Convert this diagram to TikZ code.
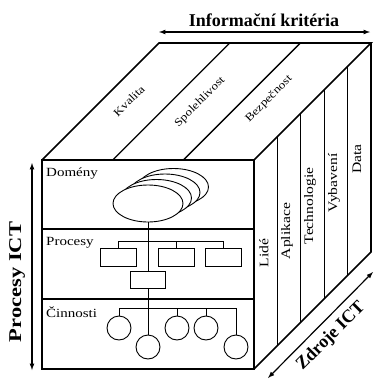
\documentclass[tikz,border=0pt]{standalone}
\usepackage{fontspec}
\setmainfont{Liberation Serif}
\newfontfamily\widefont[FakeStretch=1.2]{Liberation Serif}
\usetikzlibrary{shapes,arrows}

\begin{document}
\begin{tikzpicture}[x=1pt,y=-1pt,
    cube/.style={line width=1.6pt},
    strip/.style={line width=1.3pt},
    treeline/.style={line width=0.9pt},
    dimarrow/.style={latex-latex, line width=1.2pt},
    dimlabel/.style={font=\bfseries\fontsize{18}{20}\selectfont, inner sep=0pt},
    facetext/.style={font=\widefont\fontsize{12.5}{14}\selectfont, inner sep=0pt},
    toptext/.style={font=\widefont\fontsize{11}{12}\selectfont, rotate=45, inner sep=0pt},
    sidetext/.style={font=\widefont\fontsize{13}{14}\selectfont, rotate=90, inner sep=0pt},
    domell/.style={draw, ellipse, fill=white, minimum width=70pt, minimum height=37pt, inner sep=0pt, line width=0.9pt},
    procbox/.style={draw, rectangle, minimum width=36pt, minimum height=18pt, inner sep=0pt, line width=0.9pt},
    actcirc/.style={draw, circle, minimum size=24pt, inner sep=0pt, line width=0.9pt}
  ]
  \useasboundingbox (0,0) rectangle (375,381);

  % cube corners
  \coordinate (ftl) at (42,160);
  \coordinate (ftr) at (254,160);
  \coordinate (fbl) at (42,369);
  \coordinate (fbr) at (254,369);
  \coordinate (btl) at (159,43);
  \coordinate (btr) at (371,43);
  \coordinate (bbr) at (371,252);

  % cube
  \draw[cube] (ftl) rectangle (fbr);
  \draw[cube] (42,229) -- (254,229);
  \draw[cube] (42,299) -- (254,299);
  \draw[cube] (ftl) -- (btl) -- (btr) -- (ftr);
  \draw[cube] (btr) -- (bbr) -- (fbr);
  \foreach \i in {1,2}
    \draw[strip] (42+70.67*\i,160) -- (159+70.67*\i,43);
  \foreach \i in {1,...,4}
    \draw[strip] (254+23.4*\i,160-23.4*\i) -- (254+23.4*\i,369-23.4*\i);

  % top face labels
  \node[toptext] (kval) at (129,101) {Kvalita};
  \node[toptext] (spol) at (200,102) {Spolehlivost};
  \node[toptext] (bezp) at (269,99) {Bezpečnost};

  % right face labels
  \node[sidetext] (lide) at (264,253) {Lidé};
  \node[sidetext] (apl) at (287,231) {Aplikace};
  \node[sidetext] (tech) at (310,206) {Technologie};
  \node[sidetext] (vyb) at (334,183) {Vybavení};
  \node[sidetext] (data) at (357,159) {Data};

  % front face labels
  \node[facetext, anchor=base west] (domlbl) at (46,176) {Domény};
  \node[facetext, anchor=base west] (proclbl) at (46,245) {Procesy};
  \node[facetext, anchor=base west] (actlbl) at (46,317) {Činnosti};

  % domains
  \node[domell] (dom3) at (173.5,187) {};
  \node[domell] (dom2) at (165,192.5) {};
  \node[domell] (dom1) at (156.5,198) {};
  \node[domell] (dom) at (148,203.5) {};

  % processes
  \node[procbox] (p1) at (118,257) {};
  \node[procbox] (p2) at (176.5,257) {};
  \node[procbox] (p3) at (223.5,257) {};
  \node[procbox, minimum height=17pt, minimum width=35pt] (pbox) at (148,279.5) {};

  % activities
  \node[actcirc] (a1) at (119,328) {};
  \node[actcirc] (a2) at (148,347) {};
  \node[actcirc] (a3) at (177,328) {};
  \node[actcirc] (a4) at (206,328) {};
  \node[actcirc] (a5) at (236,347) {};

  % tree lines
  \draw[treeline] (dom.south) -- (pbox.north);
  \draw[treeline] (pbox.south) -- (a2.north);
  \draw[treeline] (p1.north) -- ++(0,-6) coordinate (pbar) -- (pbar -| p3.north) -- (p3.north);
  \draw[treeline] (p2.north) -- (p2.north |- pbar);
  \draw[treeline] (a1.north) -- ++(0,-7) coordinate (abar) -- (abar -| a5.north) -- (a5.north);
  \draw[treeline] (a3.north) -- (a3.north |- abar);
  \draw[treeline] (a4.north) -- (a4.north |- abar);

  % dimension arrows
  \coordinate (ik1) at (159,32);
  \coordinate (ik2) at (370,32);
  \coordinate (pi1) at (32,163);
  \coordinate (pi2) at (32,370);
  \coordinate (zi1) at (268,378);
  \coordinate (zi2) at (373,272);
  \draw[dimarrow] (ik1) -- (ik2);
  \draw[dimarrow] (pi1) -- (pi2);
  \draw[dimarrow] (zi1) -- (zi2);

  % dimension labels
  \node[dimlabel] (iklbl) at (264,20) {Informační kritéria};
  \node[dimlabel, rotate=90, xscale=1.25] (pilbl) at (17,282) {Procesy ICT};
  \node[dimlabel, rotate=45] (zilbl) at (331,336) {Zdroje ICT};
\end{tikzpicture}
\end{document}
